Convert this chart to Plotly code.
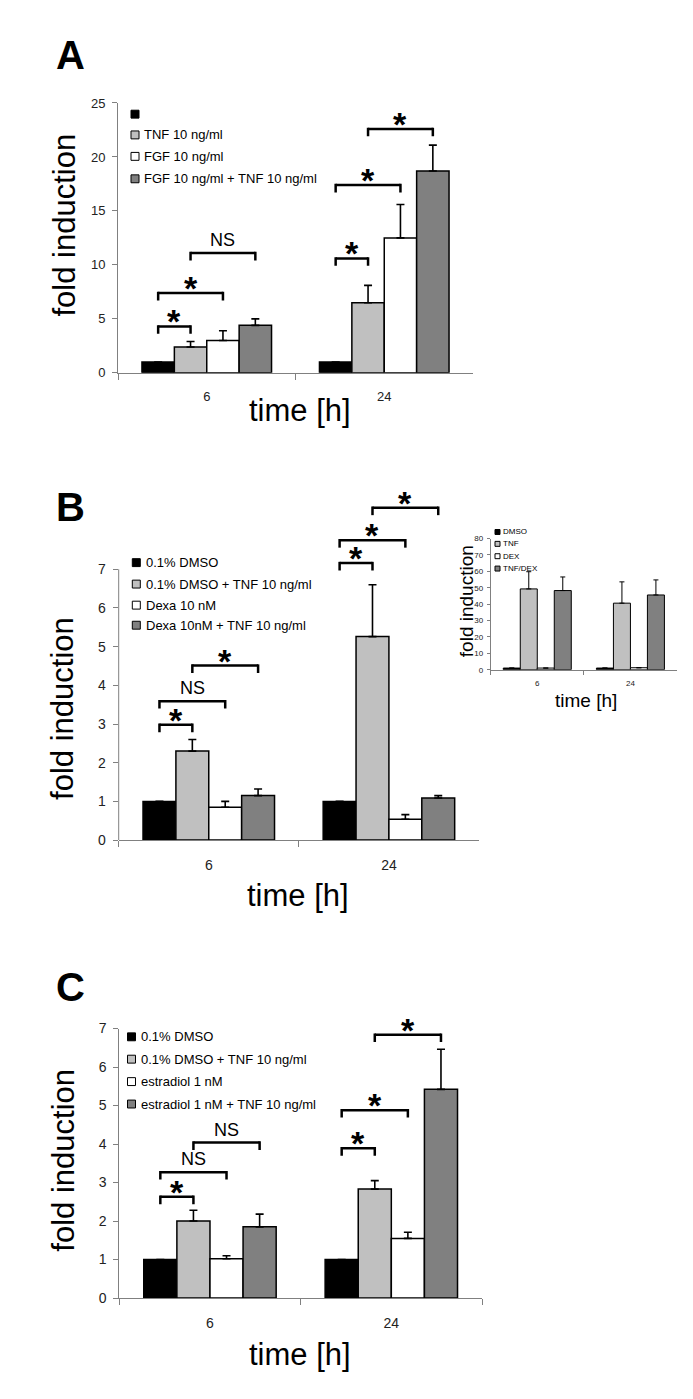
import plotly.graph_objects as go

# page is drawn with the default 8px body margin, so the figure is 8px smaller
OFF = 8
W, H = 693 - OFF, 1399 - OFF

times = ["6", "24"]
bar_colors = ["#000000", "#c0c0c0", "#ffffff", "#808080"]

# panel A
a_labels = ["", "TNF 10 ng/ml", "FGF 10 ng/ml", "FGF 10 ng/ml + TNF 10 ng/ml"]
a_values = [[1.0, 1.0], [2.4, 6.5], [3.0, 12.5], [4.4, 18.7]]
a_errors = [[0, 0], [0.5, 1.6], [0.9, 3.1], [0.6, 2.4]]
a_sig = [(0, 0, 1, 4.3, "*"), (0, 0, 2, 7.4, "*"), (0, 1, 3, 11.1, "NS"),
         (1, 0, 1, 10.6, "*"), (1, 0, 2, 17.4, "*"), (1, 1, 3, 22.6, "*")]

# panel B
b_labels = ["0.1% DMSO", "0.1% DMSO + TNF 10 ng/ml", "Dexa 10 nM", "Dexa 10nM + TNF 10 ng/ml"]
b_values = [[1.0, 1.0], [2.3, 5.26], [0.85, 0.54], [1.15, 1.09]]
b_errors = [[0, 0], [0.3, 1.34], [0.15, 0.12], [0.17, 0.06]]
b_sig = [(0, 0, 1, 2.98, "*"), (0, 0, 2, 3.59, "NS"), (0, 1, 3, 4.51, "*"),
         (1, 0, 1, 7.16, "*"), (1, 0, 2, 7.75, "*"), (1, 1, 3, 8.59, "*")]

# inset in B
i_labels = ["DMSO", "TNF", "DEX", "TNF/DEX"]
i_values = [[1.0, 1.0], [49.3, 40.6], [1.0, 1.2], [48.3, 45.6]]
i_errors = [[0, 0], [10.5, 13.0], [0, 0], [8.3, 9.2]]

# panel C
c_labels = ["0.1% DMSO", "0.1% DMSO + TNF 10 ng/ml", "estradiol 1 nM", "estradiol 1 nM + TNF 10 ng/ml"]
c_values = [[1.0, 1.0], [2.0, 2.83], [1.02, 1.55], [1.85, 5.42]]
c_errors = [[0, 0], [0.28, 0.22], [0.08, 0.16], [0.33, 1.04]]
c_sig = [(0, 0, 1, 2.63, "*"), (0, 0, 2, 3.27, "NS"), (0, 1, 3, 4.04, "NS"),
         (1, 0, 1, 3.89, "*"), (1, 0, 2, 4.88, "*"), (1, 1, 3, 6.84, "*")]

FONT = "Liberation Sans, Arial, sans-serif"
BARGAP = 0.27
BW = (1 - BARGAP) / 4


def fx(px):
    return (px - OFF) / W


def fy(py):
    return 1 - (py - OFF) / H


fig = go.Figure()
shapes = []
annotations = []

panels = [
    dict(ax="", vals=a_values, errs=a_errors, sig=a_sig, xdom=(118, 473), y0=369, ppu=273 / 25,
         ytop=25, dtick=5, ticktop=25, tfs=13, lw=1.5),
    dict(ax="2", vals=b_values, errs=b_errors, sig=b_sig, xdom=(118.7, 479), y0=841.7, ppu=274 / 7,
         ytop=9, dtick=1, ticktop=7, tfs=14, lw=1.5),
    dict(ax="3", vals=i_values, errs=i_errors, sig=[], xdom=(490.7, 677), y0=669.3, ppu=132.6 / 80,
         ytop=80, dtick=10, ticktop=80, tfs=8, lw=1),
    dict(ax="4", vals=c_values, errs=c_errors, sig=c_sig, xdom=(119.3, 482), y0=1305, ppu=272.7 / 7,
         ytop=7, dtick=1, ticktop=7, tfs=14, lw=1.5),
]

for p in panels:
    xa, ya = "x" + p["ax"], "y" + p["ax"]
    for k in range(4):
        fig.add_trace(go.Bar(
            x=times, y=p["vals"][k], xaxis=xa, yaxis=ya, showlegend=False,
            marker=dict(color=bar_colors[k], line=dict(color="black", width=p["lw"])),
            error_y=dict(type="data", array=p["errs"][k], arrayminus=[0, 0], symmetric=False,
                         color="black", thickness=1.6 if p["lw"] > 1 else 1,
                         width=4 if p["lw"] > 1 else 2.5),
        ))
    small = p["ax"] == "3"
    axname = "xaxis" + p["ax"]
    yname = "yaxis" + p["ax"]
    fig.layout[axname] = dict(
        domain=[fx(p["xdom"][0]), fx(p["xdom"][1])], anchor=ya, type="category",
        range=[-0.5, 1.5], showline=True, linecolor="#808080", linewidth=1,
        ticks="outside", tickson="boundaries", ticklen=4 if small else 6, tickcolor="#808080",
        showgrid=False, tickfont=dict(family=FONT, size=p["tfs"], color="#222"),
        ticklabelstandoff=6 if small else 12,
    )
    top_px = p["y0"] - p["ppu"] * p["ytop"]
    fig.layout[yname] = dict(
        domain=[fy(p["y0"]), fy(top_px)], anchor=xa, range=[0, p["ytop"]],
        showline=p["ax"] != "2", linecolor="#808080", linewidth=1,
        ticks="outside", ticklen=3 if small else 5, tickcolor="#808080",
        tickvals=list(range(0, p["ticktop"] + 1, p["dtick"])),
        showgrid=False, zeroline=False,
        tickfont=dict(family=FONT, size=p["tfs"], color="#222"),
        ticklabelstandoff=2 if small else 4,
    )
    if p["ax"] == "2":
        # axis line of B only runs up to 7, the brackets sit above it
        shapes.append(dict(type="line", xref="x2 domain", yref="y2", x0=0, x1=0, y0=0, y1=7,
                           line=dict(color="#808080", width=1)))
    # significance brackets
    leg = 7.5 / p["ppu"]
    half = 1.25 / p["ppu"]
    for g, i, j, h, lab in p["sig"]:
        xi = g + (i - 1.5) * BW
        xj = g + (j - 1.5) * BW
        ln = dict(color="black", width=2.5)
        shapes.append(dict(type="line", xref=xa, yref=ya, x0=xi, x1=xi, y0=h - leg, y1=h + half, line=ln))
        shapes.append(dict(type="line", xref=xa, yref=ya, x0=xi, x1=xj, y0=h, y1=h, line=ln))
        shapes.append(dict(type="line", xref=xa, yref=ya, x0=xj, x1=xj, y0=h - leg, y1=h + half, line=ln))
        if lab == "*":
            annotations.append(dict(x=(xi + xj) / 2, y=h, xref=xa, yref=ya, text="<b>*</b>",
                                    showarrow=False, yanchor="middle", yshift=5,
                                    font=dict(family=FONT, size=34, color="black")))
        else:
            annotations.append(dict(x=(xi + xj) / 2, y=h, xref=xa, yref=ya, text=lab,
                                    showarrow=False, yanchor="middle", yshift=13,
                                    font=dict(family=FONT, size=18, color="black")))


def text_px(x, y, text, size, angle=0, bold=False, xanchor="center"):
    annotations.append(dict(
        x=fx(x), y=fy(y), xref="paper", yref="paper", text="<b>%s</b>" % text if bold else text,
        showarrow=False, textangle=angle, xanchor=xanchor, yanchor="middle",
        font=dict(family=FONT, size=size, color="black")))


def legend_px(labels, sq_x, txt_x, ys, sq, size):
    for lab, col, y in zip(labels, bar_colors, ys):
        shapes.append(dict(type="rect", xref="paper", yref="paper",
                           x0=fx(sq_x - sq / 2), x1=fx(sq_x + sq / 2),
                           y0=fy(y + sq / 2), y1=fy(y - sq / 2),
                           fillcolor=col, line=dict(color="black", width=1)))
        if lab:
            text_px(txt_x, y, lab, size, xanchor="left")


# panel letters
text_px(71, 47.5, "A", 40, bold=True)
text_px(71, 505, "B", 40, bold=True)
text_px(71, 990, "C", 40, bold=True)

# axis titles
text_px(65, 220, "fold induction", 31, angle=-90)
text_px(300, 407, "time [h]", 31)
text_px(63, 709, "fold induction", 31, angle=-90)
text_px(298, 898, "time [h]", 31)
text_px(64, 1166, "fold induction", 31, angle=-90)
text_px(300, 1362, "time [h]", 31)
text_px(466, 600, "fold induction", 19, angle=-90)
text_px(586, 700, "time [h]", 19)

# legends
legend_px(a_labels, 135, 142, [107.3, 128.3, 150, 172.7], 8, 13)
legend_px(b_labels, 136.3, 143.5, [561, 582.7, 604, 624.3], 8, 13)
legend_px(c_labels, 131.5, 138.5, [1040.7, 1063.3, 1086, 1108.7], 8, 13)
legend_px(i_labels, 497.5, 501, [530, 542, 554.5, 567], 5, 8)

fig.update_layout(
    width=W, height=H, autosize=False,
    margin=dict(l=0, r=0, t=0, b=0),
    paper_bgcolor="white", plot_bgcolor="rgba(0,0,0,0)",
    barmode="group", bargap=BARGAP, bargroupgap=0,
    showlegend=False,
    shapes=shapes, annotations=annotations,
    font=dict(family=FONT, color="black"),
)

fig.write_html("out.html")
